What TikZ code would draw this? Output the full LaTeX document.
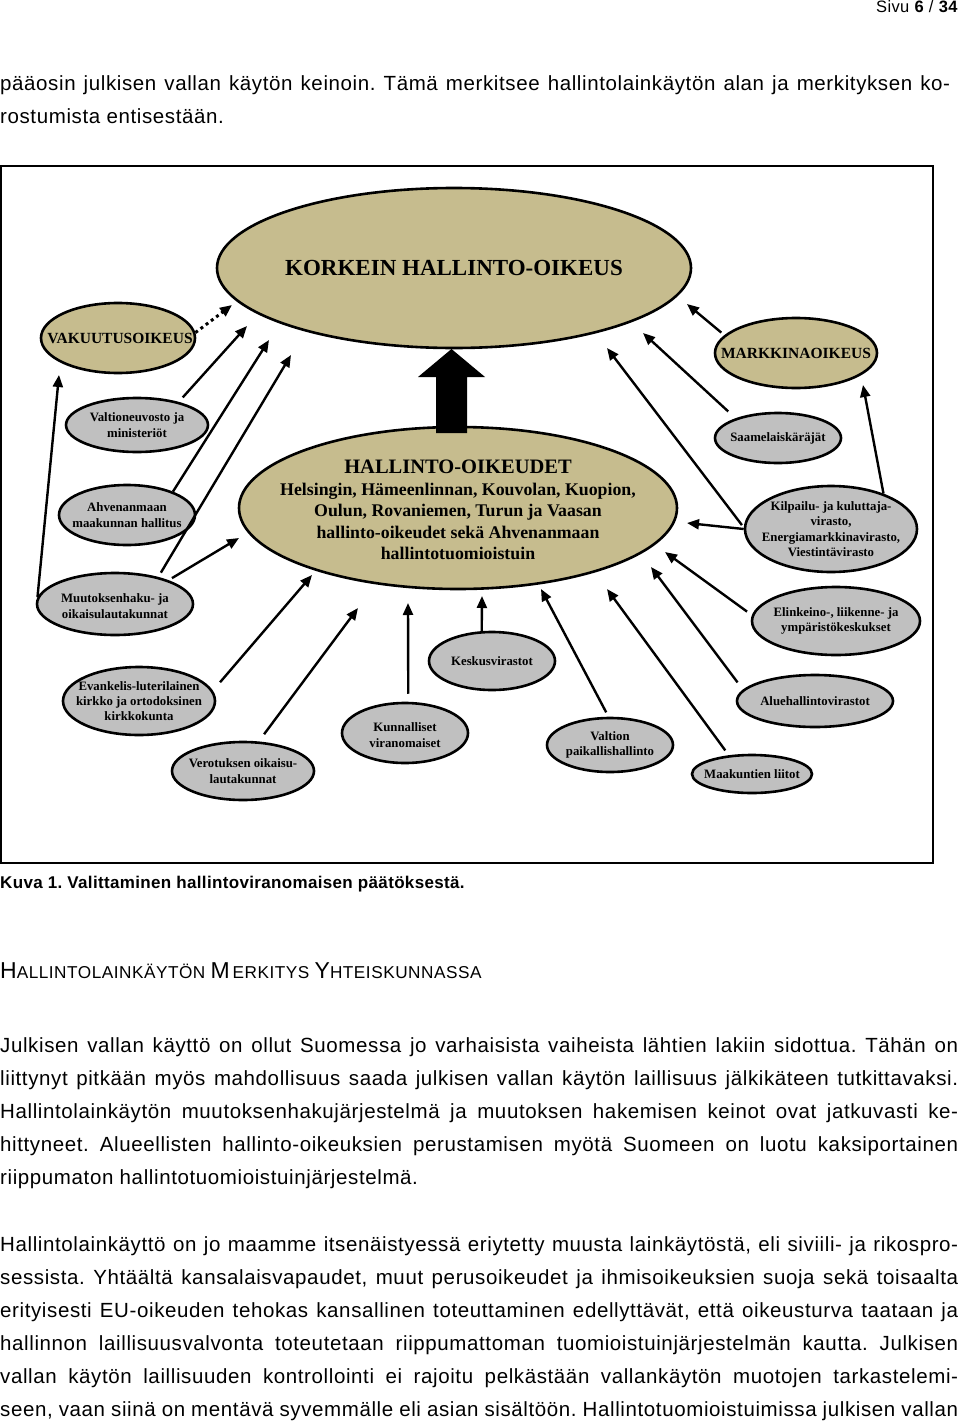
\documentclass[tikz,border=0pt]{standalone}
\usepackage{fontspec}
\setmainfont{Liberation Serif}
\newfontfamily\bodyf[LetterSpace=3]{Liberation Sans}
\newfontfamily\capf[LetterSpace=2]{Liberation Sans}
\usetikzlibrary{shapes.geometric,arrows.meta,calc}
\definecolor{tanfill}{RGB}{198,188,142}
\definecolor{lgray}{RGB}{192,192,192}
\newcommand{\jline}[1]{\makebox[958pt][s]{#1}}
\frenchspacing
\begin{document}
\begin{tikzpicture}[x=1pt,y=-1pt,
  ell/.style={ellipse, draw=black, line width=2.6pt, inner sep=0pt},
  tanell/.style={ell, fill=tanfill},
  grayell/.style={ell, fill=lgray},
  lbl/.style={align=center, inner sep=0pt, font=\bfseries\fontsize{12.8}{15.3}\selectfont},
  arr/.style={line width=2.4pt, -{Triangle[length=12pt,width=10pt]}},
  dotarr/.style={line width=3pt, dash pattern=on 3pt off 3.5pt, -{Triangle[length=12pt,width=10pt]}},
  body/.style={anchor=base west, inner sep=0pt, font=\bodyf\fontsize{20.5}{24}\selectfont},
]
\useasboundingbox (0,0) rectangle (960,1421);

% header and first paragraph
\node[anchor=base east, inner sep=0pt, font=\capf\fontsize{16.5}{19}\selectfont] (sivu) at (958,13) {Sivu \textbf{6} / \textbf{34}};
\node[body] (p1a) at (0,90) {\makebox[950pt][s]{pääosin julkisen vallan käytön keinoin. Tämä merkitsee hallintolainkäytön alan ja merkityksen ko-}};
\node[body] (p1b) at (0,123) {rostumista entisestään.};

% frame
\draw[line width=2pt] (1,166) rectangle (933,863);

% main ellipses
\node[tanell, minimum width=474pt, minimum height=160pt] (kho) at (454,268) {};
\node[inner sep=0pt, font=\bfseries\fontsize{23}{27}\selectfont] at (kho) {KORKEIN HALLINTO-OIKEUS};

\node[tanell, minimum width=154pt, minimum height=70pt] (vak) at (118,338) {};
\node[inner sep=0pt, font=\bfseries\fontsize{15.5}{18}\selectfont] at (120,338) {VAKUUTUSOIKEUS};

\node[tanell, minimum width=162pt, minimum height=70pt] (mark) at (796,353) {};
\node[inner sep=0pt, font=\bfseries\fontsize{15.5}{18}\selectfont] at (mark) {MARKKINAOIKEUS};

\node[tanell, minimum width=438pt, minimum height=162pt] (ho) at (458,508) {};
\node[align=center, inner sep=0pt, font=\bfseries\fontsize{17.8}{21.5}\selectfont] at (458,510)
  {{\fontsize{20.5}{23}\selectfont HALLINTO-OIKEUDET}\\Helsingin, Hämeenlinnan, Kouvolan, Kuopion,\\Oulun, Rovaniemen, Turun ja Vaasan\\hallinto-oikeudet sekä Ahvenanmaan\\hallintotuomioistuin};

% grey ellipses
\node[grayell, minimum width=142pt, minimum height=54pt] (valt) at (137,425) {};
\node[lbl] at (valt) {Valtioneuvosto ja\\ministeriöt};
\node[grayell, minimum width=136pt, minimum height=60pt] (ahv) at (127,515) {};
\node[lbl] at (ahv) {Ahvenanmaan\\maakunnan hallitus};
\node[grayell, minimum width=156pt, minimum height=62pt] (muu) at (115,604) {};
\node[lbl] at (115,606) {Muutoksenhaku- ja\\oikaisulautakunnat};
\node[grayell, minimum width=152pt, minimum height=68pt] (evl) at (139,701) {};
\node[lbl] at (evl) {Evankelis-luterilainen\\kirkko ja ortodoksinen\\kirkkokunta};
\node[grayell, minimum width=142pt, minimum height=58pt] (vero) at (243,771) {};
\node[lbl] at (vero) {Verotuksen oikaisu-\\lautakunnat};
\node[grayell, minimum width=126pt, minimum height=60pt] (kunn) at (405,733) {};
\node[lbl] at (405,735) {Kunnalliset\\viranomaiset};
\node[grayell, minimum width=126pt, minimum height=58pt] (kesk) at (492,661) {};
\node[lbl] at (kesk) {Keskusvirastot};
\node[grayell, minimum width=126pt, minimum height=54pt] (vpk) at (610,745) {};
\node[lbl] at (vpk) {Valtion\\paikallishallinto};
\node[grayell, minimum width=120pt, minimum height=38pt] (maak) at (752,774) {};
\node[lbl] at (maak) {Maakuntien liitot};
\node[grayell, minimum width=156pt, minimum height=52pt] (alue) at (815,701) {};
\node[lbl] at (alue) {Aluehallintovirastot};
\node[grayell, minimum width=168pt, minimum height=68pt] (elin) at (836,621) {};
\node[lbl] at (elin) {Elinkeino-, liikenne- ja\\ympäristökeskukset};
\node[grayell, minimum width=172pt, minimum height=86pt] (kilp) at (831,529) {};
\node[lbl] at (kilp) {Kilpailu- ja kuluttaja-\\virasto,\\Energiamarkkinavirasto,\\Viestintävirasto};
\node[grayell, minimum width=126pt, minimum height=50pt] (saam) at (778,438) {};
\node[lbl] at (saam) {Saamelaiskäräjät};

% arrow tips
\coordinate (t1) at (232,305);
\coordinate (t2) at (247,326);
\coordinate (t3) at (269,340);
\coordinate (t4) at (291,355);
\coordinate (t5) at (59,375);
\coordinate (t6) at (239,538);
\coordinate (t7) at (687,304);
\coordinate (t8) at (643,333);
\coordinate (t9) at (607,348);
\coordinate (t10) at (863,385);
\coordinate (t11) at (687,523);
\coordinate (t12) at (665,552);
\coordinate (t13) at (651,567);
\coordinate (t14) at (607,589);
\coordinate (t15) at (541,589);
\coordinate (t16) at (482,596);
\coordinate (t17) at (408,603);
\coordinate (t18) at (358,608);
\coordinate (t19) at (312,575);

% connectors
\draw[dotarr] (vak.4) -- (t1);
\draw[arr, shorten <=6pt] (valt.29) -- (t2);
\draw[arr] (ahv.27) -- (t3);
\draw[arr, shorten <=5pt] (muu.32) -- (t4);
\draw[arr] (muu.175) -- (t5);
\draw[arr, shorten <=4pt] (muu.24) -- (t6);
\draw[arr, shorten <=4pt] (mark.166) -- (t7);
\draw[arr, shorten <=10pt] (saam.155) -- (t8);
\draw[arr, shorten <=3pt] (kilp.179.8) -- (t9);
\draw[arr] (kilp.34) -- (t10);
\draw[arr] (kilp.180.7) -- (t11);
\draw[arr, shorten <=6pt] (elin.176.3) -- (t12);
\draw[arr, shorten <=9pt] (alue.171.6) -- (t13);
\draw[arr, shorten <=6pt] (maak.141) -- (t14);
\draw[arr, shorten <=5pt] (vpk.93) -- (t15);
\draw[arr] (kesk.109) -- (t16);
\draw[arr, shorten <=8pt] (kunn.84) -- (t17);
\draw[arr, shorten <=9pt] (vero.62) -- (t18);
\draw[arr, shorten <=11pt] (evl.8) -- (t19);

% block arrow from hallinto-oikeudet up to KHO
\fill[black] (436,433) -- (436,377) -- (418,377) -- (451.5,349) -- (485,377) -- (467,377) -- (467,433) -- cycle;

% caption, heading and text
\node[anchor=base west, inner sep=0pt, font=\capf\bfseries\fontsize{17}{20}\selectfont] (cap) at (0,888) {Kuva 1. Valittaminen hallintoviranomaisen päätöksestä.};
\node[anchor=base west, inner sep=0pt, font=\bodyf\fontsize{17.2}{20}\selectfont] (head) at (0,978)
  {{\fontsize{23}{26}\selectfont H}ALLINTOLAINKÄYTÖN {\fontsize{23}{26}\selectfont M}\,ERKITYS {\fontsize{23}{26}\selectfont Y}HTEISKUNNASSA};

\node[body] (p2a) at (0,1052) {\jline{Julkisen vallan käyttö on ollut Suomessa jo varhaisista vaiheista lähtien lakiin sidottua. Tähän on}};
\node[body] (p2b) at (0,1085) {\jline{liittynyt pitkään myös mahdollisuus saada julkisen vallan käytön laillisuus jälkikäteen tutkittavaksi.}};
\node[body] (p2c) at (0,1118) {\jline{Hallintolainkäytön muutoksenhakujärjestelmä ja muutoksen hakemisen keinot ovat jatkuvasti ke-}};
\node[body] (p2d) at (0,1151) {\jline{hittyneet. Alueellisten hallinto-oikeuksien perustamisen myötä Suomeen on luotu kaksiportainen}};
\node[body] (p2e) at (0,1184) {riippumaton hallintotuomioistuinjärjestelmä.};

\node[body] (p3a) at (0,1251) {\jline{Hallintolainkäyttö on jo maamme itsenäistyessä eriytetty muusta lainkäytöstä, eli siviili- ja rikospro-}};
\node[body] (p3b) at (0,1284) {\jline{sessista. Yhtäältä kansalaisvapaudet, muut perusoikeudet ja ihmisoikeuksien suoja sekä toisaalta}};
\node[body] (p3c) at (0,1317) {\jline{erityisesti EU-oikeuden tehokas kansallinen toteuttaminen edellyttävät, että oikeusturva taataan ja}};
\node[body] (p3d) at (0,1350) {\jline{hallinnon laillisuusvalvonta toteutetaan riippumattoman tuomioistuinjärjestelmän kautta. Julkisen}};
\node[body] (p3e) at (0,1383) {\jline{vallan käytön laillisuuden kontrollointi ei rajoitu pelkästään vallankäytön muotojen tarkastelemi-}};
\node[body] (p3f) at (0,1416) {\jline{seen, vaan siinä on mentävä syvemmälle eli asian sisältöön. Hallintotuomioistuimissa julkisen vallan}};
\end{tikzpicture}
\end{document}
